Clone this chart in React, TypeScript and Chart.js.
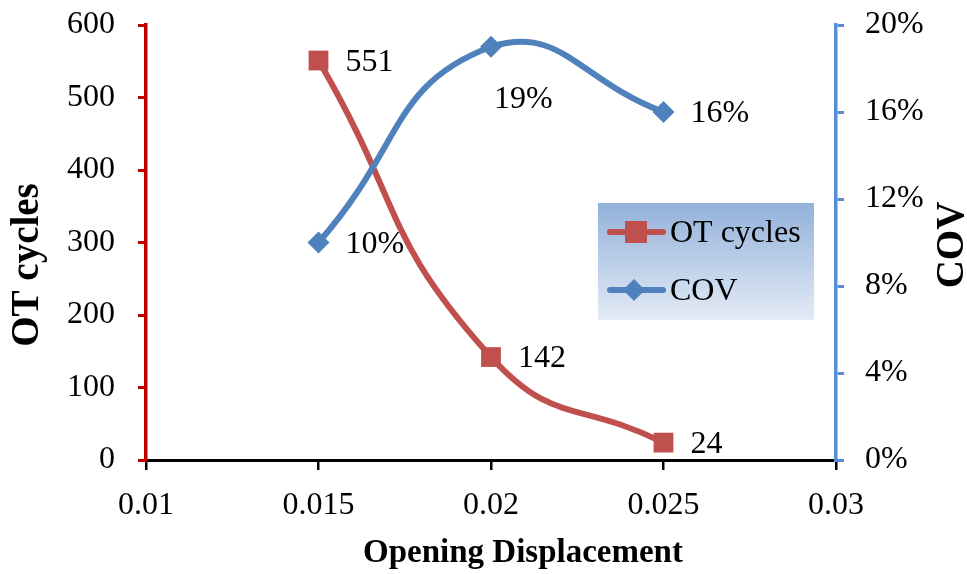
import React, { useEffect, useRef } from "react";
import { Chart, registerables } from "chart.js";

Chart.register(...registerables);

// ---- data ----
const openingDisplacement = [0.015, 0.02, 0.025];
const otCycles = [551, 142, 24];
const covValues = [0.1, 0.19, 0.16];
const xTickValues = [0.01, 0.015, 0.02, 0.025, 0.03];
const leftTickValues = [0, 100, 200, 300, 400, 500, 600];
const rightTickValues = [0, 0.04, 0.08, 0.12, 0.16, 0.2];
const seriesNames = ["OT cycles", "COV"];
const xTitle = "Opening Displacement";
const leftTitle = "OT cycles";
const rightTitle = "COV";

const SERIF = "'Liberation Serif', 'Times New Roman', serif";
const RED = "#C0504D";
const BLUE = "#4F81BD";

const fmtX = (v: number) => String(Number(v.toFixed(3)));
const fmtPct = (v: number) => `${Math.round(v * 100)}%`;

const dataLabelPlugin = {
  id: "dataLabels",
  afterDatasetsDraw(chart: any) {
    const ctx = chart.ctx;
    ctx.save();
    ctx.font = `32px ${SERIF}`;
    ctx.fillStyle = "#000";
    ctx.textBaseline = "middle";
    ctx.textAlign = "left";
    chart.data.datasets.forEach((ds: any, di: number) => {
      const meta = chart.getDatasetMeta(di);
      meta.data.forEach((pt: any, i: number) => {
        const raw = ds.data[i].y;
        const text = di === 0 ? String(raw) : fmtPct(raw);
        // COV peak label sits below its point, others to the right
        if (di === 1 && i === 1) {
          ctx.fillText(text, pt.x + 3, pt.y + 53);
        } else {
          ctx.fillText(text, pt.x + 27, pt.y + 2);
        }
      });
    });
    ctx.restore();
  },
};

const fitFont = (ctx: any, text: string, target: number) => {
  ctx.font = `bold 30px ${SERIF}`;
  const w = ctx.measureText(text).width;
  return Math.round((30 * target) / w);
};

const decorPlugin = {
  id: "decor",
  afterDraw(chart: any) {
    const ctx = chart.ctx;
    ctx.save();
    // axis titles
    ctx.fillStyle = "#000";
    ctx.textAlign = "center";
    ctx.textBaseline = "middle";
    let size = fitFont(ctx, xTitle, 320);
    ctx.font = `bold ${size}px ${SERIF}`;
    ctx.fillText(xTitle, 523, 553);
    size = fitFont(ctx, leftTitle, 162);
    ctx.font = `bold ${size}px ${SERIF}`;
    ctx.save();
    ctx.translate(28, 265);
    ctx.rotate(-Math.PI / 2);
    ctx.fillText(leftTitle, 0, 0);
    ctx.restore();
    ctx.save();
    ctx.translate(953, 245);
    ctx.rotate(-Math.PI / 2);
    ctx.fillText(rightTitle, 0, 0);
    ctx.restore();

    // legend
    const lx = 598, ly = 203, lw = 216, lh = 117;
    const g = ctx.createLinearGradient(0, ly, 0, ly + lh);
    g.addColorStop(0, "#93B1DA");
    g.addColorStop(1, "#E3EBF6");
    ctx.fillStyle = g;
    ctx.fillRect(lx, ly, lw, lh);
    const items = [
      { name: seriesNames[0], color: RED, y: 232, shape: "rect" },
      { name: seriesNames[1], color: BLUE, y: 290, shape: "diamond" },
    ];
    items.forEach((it) => {
      ctx.strokeStyle = it.color;
      ctx.lineWidth = 6;
      ctx.lineCap = "round";
      ctx.beginPath();
      ctx.moveTo(610, it.y);
      ctx.lineTo(663, it.y);
      ctx.stroke();
      ctx.fillStyle = it.color;
      if (it.shape === "rect") {
        ctx.fillRect(625, it.y - 11, 22, 22);
      } else {
        ctx.beginPath();
        ctx.moveTo(634, it.y - 11);
        ctx.lineTo(645, it.y);
        ctx.lineTo(634, it.y + 11);
        ctx.lineTo(623, it.y);
        ctx.closePath();
        ctx.fill();
      }
      ctx.fillStyle = "#000";
      ctx.textAlign = "left";
      ctx.font = `32px ${SERIF}`;
      ctx.fillText(it.name, 670, it.y + 2);
    });
    ctx.restore();
  },
};

export default function App() {
  const ref = useRef<HTMLCanvasElement>(null);
  useEffect(() => {
    const canvas = ref.current!;
    const tickFont = { family: SERIF, size: 32 };
    const chart = new Chart(canvas, {
      type: "line",
      data: {
        datasets: [
          {
            label: seriesNames[0],
            data: openingDisplacement.map((x, i) => ({ x, y: otCycles[i] })),
            yAxisID: "y",
            borderColor: RED,
            backgroundColor: RED,
            borderWidth: 6,
            pointStyle: "rect",
            pointRadius: 14,
            pointBorderWidth: 0,
            tension: 0.5,
            order: 1,
          },
          {
            label: seriesNames[1],
            data: openingDisplacement.map((x, i) => ({ x, y: covValues[i] })),
            yAxisID: "y1",
            borderColor: BLUE,
            backgroundColor: BLUE,
            borderWidth: 6,
            pointStyle: "rectRot",
            pointRadius: 11,
            pointBorderWidth: 0,
            tension: 0.5,
            order: 0,
          },
        ],
      },
      options: {
        animation: false,
        responsive: false,
        events: [],
        layout: { padding: { top: 25, left: 0, right: 0, bottom: 0 } },
        plugins: { legend: { display: false }, tooltip: { enabled: false } },
        scales: {
          x: {
            type: "linear",
            min: 0.01,
            max: 0.03,
            afterBuildTicks: (s: any) => {
              s.ticks = xTickValues.map((value) => ({ value }));
            },
            afterFit: (s: any) => {
              s.height = 114;
              s.paddingLeft = 0;
              s.paddingRight = 0;
            },
            ticks: { font: tickFont, color: "#000", padding: 16, maxRotation: 0, callback: (v: any) => fmtX(Number(v)) },
            grid: { drawOnChartArea: false, drawTicks: true, tickLength: 10, color: "#000", lineWidth: 2.5 },
            border: { color: "#000", width: 3 },
          },
          y: {
            type: "linear",
            position: "left",
            min: 0,
            max: 600,
            afterBuildTicks: (s: any) => {
              s.ticks = leftTickValues.map((value) => ({ value }));
            },
            afterFit: (s: any) => {
              s.width = 146;
              s.paddingTop = 0;
              s.paddingBottom = 0;
            },
            ticks: { font: tickFont, color: "#000", padding: 23 },
            grid: { drawOnChartArea: false, drawTicks: true, tickLength: 8, color: "#C00000", lineWidth: 3 },
            border: { color: "#C00000", width: 3.5 },
          },
          y1: {
            type: "linear",
            position: "right",
            min: 0,
            max: 0.2,
            afterBuildTicks: (s: any) => {
              s.ticks = rightTickValues.map((value) => ({ value }));
            },
            afterFit: (s: any) => {
              s.width = 131;
              s.paddingTop = 0;
              s.paddingBottom = 0;
            },
            ticks: { font: tickFont, color: "#000", padding: 21, callback: (v: any) => fmtPct(Number(v)) },
            grid: { drawOnChartArea: false, drawTicks: true, tickLength: 8, color: "#558ED5", lineWidth: 3 },
            border: { color: "#558ED5", width: 3.5 },
          },
        },
      },
      plugins: [dataLabelPlugin, decorPlugin],
    } as any);
    return () => chart.destroy();
  }, []);
  return (
    <div style={{ position: "fixed", left: 0, top: 0, width: 967, height: 574, background: "#fff" }}>
      <canvas ref={ref} width={967} height={574} style={{ display: "block", width: 967, height: 574 }} />
    </div>
  );
}
